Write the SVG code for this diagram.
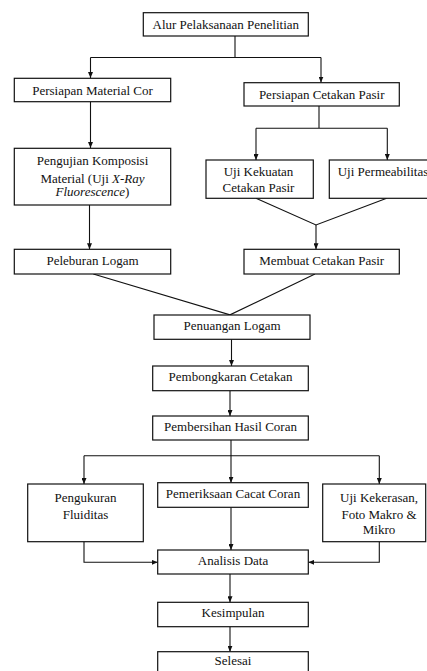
<svg xmlns="http://www.w3.org/2000/svg" width="427" height="671" viewBox="0 0 427 671" font-family="Liberation Serif, Times New Roman, Times, serif">
<style>
.box{fill:#fff;stroke:#111;stroke-width:1.2}
text{font-family:"Liberation Serif","Times New Roman",Times,serif;font-size:13px;fill:#111;text-anchor:middle}
.c{fill:none;stroke:#111;stroke-width:1.1}
.a{marker-end:url(#ah)}
</style>
<defs>
<marker id="ah" viewBox="0 0 6 5" refX="6" refY="2.5" markerWidth="6" markerHeight="5" orient="auto" markerUnits="userSpaceOnUse">
<path d="M0,0 L6,2.5 L0,5 z" fill="#111"/>
</marker>
</defs>
<g id="connectors">
<path class="c" d="M235,36 V57.5 M90.5,57.5 H321"/>
<path class="c a" d="M90.5,57.5 V78"/>
<path class="c a" d="M321,57.5 V82.5"/>
<path class="c a" d="M90.5,101.7 V148"/>
<path class="c" d="M319,106 V128.3 M256,128.3 H387.3"/>
<path class="c a" d="M256,128.3 V160"/>
<path class="c a" d="M387.3,128.3 V160"/>
<path class="c a" d="M89.5,205 V249.3"/>
<path class="c" d="M256,198.3 L316,225 L386.7,198.3"/>
<path class="c a" d="M316,225 V249.3"/>
<path class="c" d="M93.3,274 L230,314.8 L315,274"/>
<path class="c a" d="M231.5,339.3 V366"/>
<path class="c a" d="M230,390.7 V416"/>
<path class="c" d="M231,440 V455.7 M84,455.7 H379.3"/>
<path class="c a" d="M84,455.7 V484"/>
<path class="c a" d="M231,455.7 V482.7"/>
<path class="c a" d="M379.3,455.7 V484"/>
<path class="c a" d="M231,507.3 V550"/>
<path class="c a" d="M84,541.7 V562.3 H157.7"/>
<path class="c a" d="M379.3,541.7 V562.3 H308.3"/>
<path class="c a" d="M230,574 V602.3"/>
<path class="c a" d="M230,626.7 V651.7"/>
</g>
<g id="n-alur"><rect class="box" x="143.3" y="12.7" width="165" height="23.3"/><text x="225.8" y="28.5">Alur Pelaksanaan Penelitian</text></g>
<g id="n-material"><rect class="box" x="14.3" y="78.3" width="156.4" height="23.4"/><text x="92.5" y="94.5">Persiapan Material Cor</text></g>
<g id="n-cetakan"><rect class="box" x="244" y="82.7" width="155.3" height="23.3"/><text x="321.7" y="98.5">Persiapan Cetakan Pasir</text></g>
<g id="n-pengujian"><rect class="box" x="14.3" y="148.3" width="156.4" height="56.7"/><text x="92.5" y="164.5">Pengujian Komposisi</text><text x="92.5" y="182.5">Material (Uji <tspan font-style="italic">X-Ray</tspan></text><text x="92.5" y="196"><tspan font-style="italic">Fluorescence</tspan>)</text></g>
<g id="n-kekuatan"><rect class="box" x="206" y="160" width="107.3" height="38.3"/><text x="258.5" y="176">Uji Kekuatan</text><text x="258.5" y="191.5">Cetakan Pasir</text></g>
<g id="n-permeabilitas"><rect class="box" x="329.3" y="160" width="107" height="38.3"/><text x="383" y="176">Uji Permeabilitas</text></g>
<g id="n-peleburan"><rect class="box" x="14.3" y="249.3" width="156.4" height="24.7"/><text x="92.5" y="265">Peleburan Logam</text></g>
<g id="n-membuat"><rect class="box" x="244" y="249.3" width="155.3" height="24.7"/><text x="321.7" y="265">Membuat Cetakan Pasir</text></g>
<g id="n-penuangan"><rect class="box" x="154" y="315" width="156" height="24.3"/><text x="232" y="329.5">Penuangan Logam</text></g>
<g id="n-pembongkaran"><rect class="box" x="152.7" y="366" width="155.6" height="24.7"/><text x="230.5" y="380.5">Pembongkaran Cetakan</text></g>
<g id="n-pembersihan"><rect class="box" x="152.7" y="416" width="155.6" height="24"/><text x="230.5" y="430.5">Pembersihan Hasil Coran</text></g>
<g id="n-pengukuran"><rect class="box" x="27.7" y="484" width="115.6" height="57.7"/><text x="85.5" y="501.5">Pengukuran</text><text x="85.5" y="518.5">Fluiditas</text></g>
<g id="n-pemeriksaan"><rect class="box" x="157.7" y="482.7" width="150.6" height="24.6"/><text x="233" y="497.5">Pemeriksaan Cacat Coran</text></g>
<g id="n-kekerasan"><rect class="box" x="322.7" y="484" width="103" height="57.7"/><text x="379" y="501.5">Uji Kekerasan,</text><text x="379" y="518.5">Foto Makro &amp;</text><text x="379" y="533.5">Mikro</text></g>
<g id="n-analisis"><rect class="box" x="157.7" y="550" width="150.6" height="24"/><text x="233" y="564.5">Analisis Data</text></g>
<g id="n-kesimpulan"><rect class="box" x="157.7" y="602.3" width="150.6" height="24.4"/><text x="233" y="617">Kesimpulan</text></g>
<g id="n-selesai"><rect class="box" x="157.7" y="651.7" width="150.6" height="26"/><text x="233" y="665">Selesai</text></g>
</svg>
